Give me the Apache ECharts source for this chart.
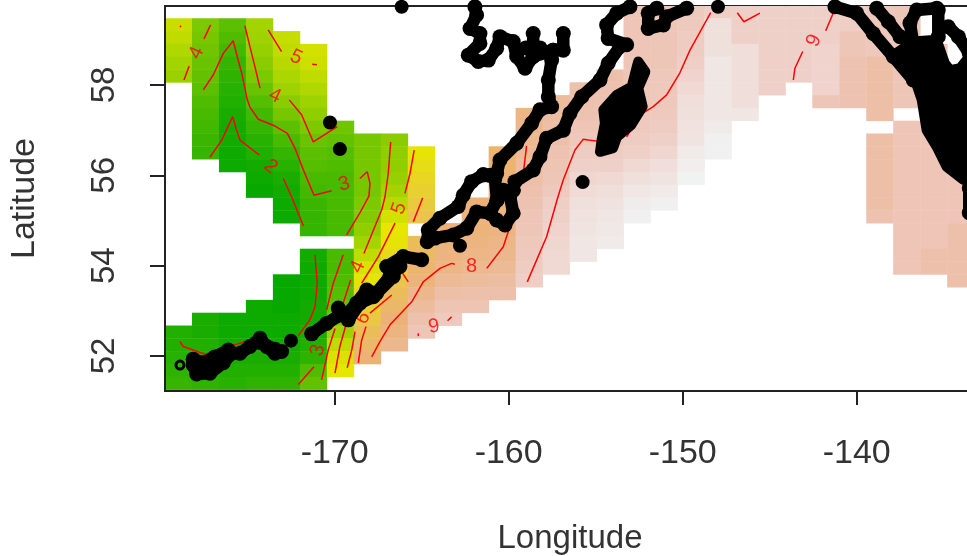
<!DOCTYPE html>
<html><head><meta charset="utf-8">
<style>html,body{margin:0;padding:0;background:#fff;overflow:hidden}#c{width:967px;height:556px;filter:blur(.55px)}</style>
<script src="https://cdn.jsdelivr.net/npm/echarts@6/dist/echarts.min.js"></script>
</head><body><div id="c"></div>
<script>
const lonTicks=[-170,-160,-150,-140];
const latTicks=[52,54,56,58];
const cellLon0=-179.75, cellLonStep=1.55, cellLatTop=59.76, cellLatStep=0.2834;
const paletteStops=[1.8,5.3,7.0,8.0,8.5,9.0,9.5,10.0,10.5];
const paletteColors=['#00A600','#E6E600','#ECB176','#EDC0AC','#EEC6B8','#EFD0C8','#F0DEDA','#F0E8E6','#F1F2F2'];
// [column, first row, values going south]
const cellRuns=[
[0,1,[4.85,4.7,4.46,4.3,4.16]],[0,25,[2.3,2.3,2.4,2.5,2.6]],
[1,1,[3.7,3.6,3.5,3.4,3.3,3.2,3.0,2.9,2.8,2.7,2.6]],[1,24,[2.2,2.2,2.3,2.3,2.4,2.5]],
[2,1,[3.2,3.0,2.8,2.6,2.5,2.4,2.3,2.2,2.1,2.1,2.0,2.0]],[2,24,[2.0,2.0,2.1,2.2,2.3,2.4]],
[3,1,[4.3,4.2,4.1,3.9,3.7,3.4,3.1,2.8,2.6,2.4,2.3,2.1,2.0,1.9]],[3,23,[2.0,2.0,2.0,2.1,2.2,2.3,2.5]],
[4,2,[4.8,4.7,4.6,4.4,4.2,3.9,3.6,3.2,2.9,2.6,2.4,2.2,2.1,2.0,2.0]],[4,21,[1.9,1.9,1.9,2.0,2.0,2.1,2.2,2.3,2.5]],
[5,3,[5.0,4.9,4.7,4.5,4.2,4.0,3.7,3.4,3.2,3.1,2.9,2.8,2.7,2.6,2.6]],[5,19,[2.1,2.0,2.0,2.0,2.1,2.1,2.2,2.3,2.5,3.0,3.3]],
[6,9,[3.5,3.3,3.1,3.0,2.9,2.9,2.9,2.9,2.9]],[6,19,[2.9,2.9,3.0,3.1,3.3,3.6,4.2,4.7,5.1,5.3]],
[7,10,[3.6,3.6,3.6,3.6,3.6,3.7,3.8,4.0,4.3,4.7,5.1,5.4,5.7,6.0,6.3,6.6,6.8,7.0]],
[8,10,[3.9,4.0,4.0,4.1,4.3,4.6,5.0,5.3,5.4,5.7,6.0,6.4,6.6,6.8,7.0,7.2,7.4]],
[9,11,[5.4,5.6,5.8,6.0,6.2,6.4]],[9,18,[6.6,6.7,6.9,7.1,7.4,7.7,8.1,8.5]],
[10,17,[7.0,7.1,7.2,7.3,7.6,7.9,8.3,8.7]],
[11,15,[7.0,7.1,7.1,7.2,7.3,7.5,7.7,8.0,8.3]],
[12,11,[6.9,6.9,7.0,7.0,7.1,7.2,7.2,7.3,7.4,7.6,7.8,8.0]],
[13,8,[7.3,7.4,7.5,7.6,7.8,7.9,8.1,8.2,8.4,8.5,8.6,8.7,8.8,8.9]],
[14,7,[7.7,7.8,7.9,8.0,8.2,8.3,8.5,8.7,8.9,9.0,9.1,9.2,9.3,9.3]],
[15,6,[8.0,8.1,8.2,8.4,8.6,8.8,9.0,9.2,9.4,9.6,9.7,9.8,9.9,9.9]],
[16,5,[8.0,8.1,8.2,8.3,8.4,8.6,8.8,9.0,9.3,9.5,9.7,9.9,10.0,10.1]],
[17,0,[8.4,8.4,8.4,8.4,8.4,8.4,8.4,8.5,8.6,8.7,8.8,9.0,9.3,9.6,9.9,10.2,10.4]],
[18,0,[8.5,8.5,8.5,8.5,8.5,8.6,8.6,8.6,8.7,8.8,9.0,9.2,9.5,9.8,10.1,10.4]],
[19,0,[8.7,8.7,8.8,8.8,8.9,9.1,9.3,9.5,9.6,9.7,9.8,10.1,10.3,10.5]],
[20,0,[8.9,9.6,9.6,9.6,9.9,9.9,9.9,9.9,9.9,10.1,10.4,10.4]],
[21,0,[9.0,9.0,9.0,9.5,9.5,9.5,9.5,9.5,9.9]],
[22,0,[9.0,9.0,9.0,9.0,9.0,9.0,9.0]],
[23,0,[9.0,9.0,9.0,9.0,9.0,9.0]],
[24,0,[9.0,9.0,9.0,9.1,9.1,9.1,9.1,8.5]],
[25,0,[8.9,8.9,8.5,8.5,8.2,8.2,8.2,8.2]],
[26,0,[8.6,8.6,8.6,8.6,7.9,7.9,7.9,7.9,7.9]],[26,10,[7.9,7.9,7.9,7.9,7.9,7.9,8.2]],
[27,0,[8.5,8.5,8.5,8.5,8.5,8.5,8.5,8.5]],[27,9,[8.4,8.4,8.4,8.4,8.4,8.4,8.4,8.4,8.4,8.4,8.4,8.4]],
[28,3,[8.5,8.5,8.5,8.5,8.5]],[28,9,[8.4,8.4,8.4,8.4,8.4,8.4,8.4,8.4,8.4,8.4,8.0,8.0]],
[29,10,[8.4,8.4,8.4,8.4,8.4,8.4,8.4,8.0,8.0,8.0,8.0,8.0]]
];
const contourLines=[
[[-178.89,59.31],[-178.83,59.28]],
[[-177.13,59.33],[-177.51,59.02]],
[[-178.36,58.42],[-178.66,58.11]],
[[-177.55,57.89],[-176.98,58.22],[-176.40,58.70],[-175.83,58.98],[-175.60,58.63],[-175.34,58.26],[-175.02,57.67],[-174.87,57.51],[-174.39,57.24],[-173.43,57.09],[-172.72,56.93],[-172.28,56.60],[-171.80,56.12],[-171.19,55.56],[-170.17,55.66]],
[[-175.16,59.31],[-174.87,58.85],[-174.58,58.40],[-174.29,57.93]],
[[-173.82,59.22],[-173.05,58.74]],
[[-171.29,58.46],[-171.02,58.45]],
[[-172.61,57.67],[-171.90,57.34],[-171.61,57.08],[-171.23,56.74],[-169.85,57.08]],
[[-177.17,56.40],[-176.49,56.78],[-175.86,57.30],[-175.67,57.04],[-175.44,56.78],[-174.33,56.45]],
[[-172.95,55.93],[-172.47,55.52],[-171.80,54.88]],
[[-168.55,55.93],[-168.13,56.08],[-167.97,55.82],[-168.03,55.54],[-168.55,55.17],[-169.31,54.68]],
[[-166.78,56.74],[-166.92,56.04],[-167.11,55.52],[-167.30,55.23],[-168.32,54.27]],
[[-165.43,56.56],[-165.67,56.04],[-165.96,55.60]],
[[-164.94,55.50],[-165.48,54.97]],
[[-166.53,54.94],[-167.49,54.20],[-168.45,53.61]],
[[-169.98,52.61],[-170.37,52.13],[-170.75,51.47]],
[[-169.35,52.69],[-169.70,52.21],[-169.98,51.62]],
[[-168.83,52.54],[-169.02,52.13],[-169.28,51.74]],
[[-168.20,52.65],[-168.45,52.35],[-168.64,51.85]],
[[-163.09,54.03],[-163.28,54.05],[-163.95,53.94],[-164.91,53.64],[-165.57,53.20],[-166.82,52.69],[-167.40,52.32],[-167.87,51.98]],
[[-166.09,53.83],[-165.77,53.64]],
[[-166.72,53.35],[-167.97,52.95]],
[[-171.13,54.24],[-171.00,53.61],[-171.13,53.09],[-171.42,52.80],[-172.09,52.45]],
[[-169.51,54.24],[-170.08,53.61],[-170.46,53.02]],
[[-169.08,53.68],[-169.51,53.17],[-169.60,52.98]],
[[-178.89,52.32],[-178.70,52.21],[-177.45,52.04],[-175.83,52.24],[-174.77,52.35]],
[[-173.43,52.23],[-172.86,52.23]],
[[-171.19,51.76],[-172.09,51.37]],
[[-165.20,52.50],[-165.19,52.44]],
[[-163.28,52.87],[-163.51,52.78]],
[[-154.56,56.74],[-155.43,56.78],[-155.71,56.80],[-156.19,56.56],[-156.86,55.90],[-157.17,55.52],[-157.82,54.64],[-158.93,53.64]],
[[-158.97,56.65],[-159.16,56.04]],
[[-159.93,54.86],[-160.31,54.42],[-161.26,53.94]],
[[-148.39,59.60],[-149.58,58.77],[-150.16,58.27],[-150.92,57.78],[-151.69,57.52],[-152.45,57.34],[-153.22,56.85]],
[[-146.86,59.60],[-146.48,59.40],[-145.56,59.59]],
[[-141.34,59.60],[-141.78,59.20]],
[[-143.10,58.74],[-143.55,58.37],[-143.64,58.11]]
];
const contourLabels=[
[-177.93,58.71,'4',65],[-172.22,58.61,'5',-25],[-173.43,57.76,'4',-25],[-173.68,56.19,'2',-40],
[-169.45,55.80,'3',15],[-166.29,55.27,'5',70],[-168.66,53.97,'4',65],[-170.96,52.13,'3',75],
[-168.37,52.84,'6',60],[-162.13,53.98,'8',0],[-164.29,52.65,'9',10],[-142.44,58.98,'9',65]
];
const coastLines=[
[[-178.13,51.80],[-177.93,51.60],[-177.17,51.62],[-176.40,51.85],[-175.92,52.06],[-175.44,52.06],[-174.87,52.21],[-174.29,52.39],[-173.91,52.21],[-173.43,52.06],[-173.05,52.10]],
[[-178.13,51.93],[-177.55,51.85],[-176.88,51.98],[-176.11,52.13]],
[[-174.29,52.30],[-173.43,52.15]],
[[-171.32,52.49],[-170.46,52.72],[-169.70,52.91],[-169.79,53.06]],
[[-169.22,52.95],[-168.74,53.17],[-168.16,53.46],[-167.59,53.39],[-166.63,53.76],[-167.01,53.98],[-166.06,54.20],[-165.00,54.13]],
[[-169.22,52.80],[-168.55,53.17],[-167.78,53.31],[-166.82,53.76],[-166.25,53.98]],
[[-161.94,59.73],[-161.84,59.55],[-162.22,59.25],[-161.65,59.14],[-161.65,58.92],[-162.32,58.66],[-161.75,58.52],[-161.17,58.55],[-160.69,58.81],[-160.50,59.07],[-159.74,58.96],[-159.54,58.63],[-159.06,58.37],[-158.59,58.63],[-158.59,59.14],[-158.59,58.63],[-157.44,58.77],[-156.86,58.77],[-156.86,59.14]],
[[-159.01,58.82],[-158.20,58.82]],
[[-157.44,58.77],[-157.53,58.55],[-157.72,58.11],[-157.72,57.74],[-157.53,57.52],[-158.20,57.45],[-158.68,57.15],[-159.54,56.71],[-160.50,56.34],[-160.69,56.04],[-161.46,56.01],[-162.13,55.86],[-162.61,55.56],[-162.90,55.31],[-163.95,55.05],[-164.62,54.79],[-164.68,54.53],[-164.24,54.61],[-163.18,54.68],[-162.41,54.83],[-161.84,55.19],[-161.07,55.16],[-160.69,55.01],[-160.21,54.90],[-159.74,55.16],[-159.93,55.56],[-159.74,55.67],[-159.64,55.86],[-158.59,56.12],[-158.20,56.41],[-157.82,56.82],[-156.86,57.00],[-156.48,57.37],[-155.80,57.74],[-154.75,58.11],[-154.28,58.48],[-153.60,58.85],[-153.22,58.89],[-154.28,59.03],[-154.37,59.33],[-153.79,59.59],[-153.03,59.73]],
[[-161.46,56.01],[-160.79,55.94],[-160.67,55.45],[-161.07,55.16]],
[[-160.67,55.45],[-160.31,55.67],[-159.74,55.67]],
[[-151.49,59.70],[-151.98,59.59],[-151.98,59.25],[-151.11,59.33],[-150.92,59.51],[-149.77,59.70]],
[[-141.25,59.73],[-140.00,59.59],[-139.05,59.14],[-137.90,58.63],[-136.75,58.11]],
[[-138.85,59.70],[-138.18,59.40],[-137.51,59.07],[-136.75,58.92],[-136.94,59.37],[-136.55,59.66],[-135.40,59.70]],
[[-135.31,59.66],[-135.31,59.07]],
[[-134.74,59.29],[-134.16,59.07],[-133.53,58.70]],
[[-133.53,55.72],[-133.53,55.17]]
];
const landPolygons=[
[[-152.55,58.52],[-152.14,58.29],[-152.55,57.93],[-152.30,57.52],[-152.96,57.11],[-153.77,56.85],[-154.00,56.60],[-154.75,56.52],[-154.66,56.78],[-154.47,57.15],[-154.56,57.45],[-153.79,57.78],[-152.93,57.96],[-152.64,58.40]],
[[-137.90,58.66],[-136.75,58.96],[-135.40,59.00],[-134.93,58.48],[-134.64,58.33],[-134.06,58.37],[-133.53,58.63],[-133.53,55.90],[-133.87,55.90],[-134.83,56.19],[-135.40,56.63],[-135.98,57.00],[-136.26,57.67],[-136.65,58.11]]
];
const islandDots=[[-170.27,57.17],[-169.70,56.58],[-155.75,55.85],[-162.80,54.44],[-172.51,52.34],[-166.15,59.73],[-147.97,59.73]];
const islandRings=[[-178.89,51.80]];

function hex(c){return [1,3,5].map(i=>parseInt(c.substr(i,2),16));}
function cellColor(z){
  let i=0; while(i<paletteStops.length-2&&z>paletteStops[i+1])i++;
  const t=Math.max(0,Math.min(1,(z-paletteStops[i])/(paletteStops[i+1]-paletteStops[i])));
  const a=hex(paletteColors[i]),b=hex(paletteColors[i+1]);
  return 'rgb('+a.map((v,j)=>Math.round(v+(b[j]-v)*t)).join(',')+')';
}
const cellData=[];
cellRuns.forEach(([c,k0,vals])=>vals.forEach((z,i)=>{
  cellData.push([cellLon0+(c+.5)*cellLonStep, cellLatTop-(k0+i+.5)*cellLatStep, z]);
}));
const axisInk='#222', textInk='#333', fontName='"Liberation Sans",Arial,sans-serif';
const series=[];
series.push({type:'custom',clip:true,silent:true,z:2,data:cellData,encode:{x:0,y:1},
  renderItem(p,api){
    const lon=api.value(0),lat=api.value(1),z=api.value(2);
    const a=api.coord([lon-cellLonStep/2,lat+cellLatStep/2]),b=api.coord([lon+cellLonStep/2,lat-cellLatStep/2]);
    return {type:'rect',shape:{x:a[0],y:a[1],width:b[0]-a[0]+.4,height:b[1]-a[1]+.4},style:{fill:cellColor(z)}};
  }});
contourLines.forEach(l=>series.push({type:'line',z:3,silent:true,data:l,symbol:'none',clip:true,
  lineStyle:{color:'#FF0000',width:1.5}}));
series.push({type:'scatter',z:4,silent:true,symbolSize:0,data:contourLabels.map(d=>({value:[d[0],d[1]],
  label:{show:true,position:'inside',formatter:d[2],rotate:d[3],color:'#FF0000',fontSize:20,fontFamily:fontName}}))});
series.push({type:'custom',z:5,clip:true,silent:true,data:landPolygons.map((_,i)=>[i]),encode:{x:[],y:[]},
  renderItem(p,api){
    const pts=landPolygons[api.value(0)].map(q=>api.coord(q));
    return {type:'polygon',shape:{points:pts},style:{fill:'#000',stroke:'#000',lineWidth:10,lineJoin:'round'}};
  }});
coastLines.forEach(l=>series.push({type:'line',z:5,silent:true,data:l,clip:true,
  symbol:'circle',symbolSize:15,showSymbol:true,showAllSymbol:true,itemStyle:{color:'#000',opacity:1},
  lineStyle:{color:'#000',width:12.5,cap:'round',join:'round',opacity:1}}));
series.push({type:'scatter',z:5,silent:true,clip:true,symbolSize:14,data:islandDots,itemStyle:{color:'#000',opacity:1}});
series.push({type:'scatter',z:5,silent:true,clip:true,symbolSize:8,data:islandRings,itemStyle:{color:'rgba(0,0,0,0)',borderColor:'#000',borderWidth:3,opacity:1}});

const chart=echarts.init(document.getElementById('c'),null,{renderer:'canvas'});
chart.setOption({animation:false,
  grid:{left:165,top:6,width:810,height:385,outerBoundsMode:'none',show:true,borderColor:axisInk,borderWidth:2,backgroundColor:'#fff'},
  xAxis:{type:'value',min:-179.75,max:-133.2,z:10,splitLine:{show:false},
    axisLine:{show:true,onZero:false,lineStyle:{color:axisInk,width:2}},
    axisTick:{show:true,length:14,customValues:lonTicks,lineStyle:{color:axisInk,width:2}},
    axisLabel:{customValues:lonTicks,formatter:v=>String(v),margin:46,fontSize:34,color:textInk,fontFamily:fontName},
    name:'Longitude',nameLocation:'middle',nameGap:148,nameTextStyle:{fontSize:33,color:textInk,fontFamily:fontName,verticalAlign:'middle'}},
  yAxis:{type:'value',min:51.225,max:59.748,z:10,splitLine:{show:false},
    axisLine:{show:true,onZero:false,lineStyle:{color:axisInk,width:2}},
    axisTick:{show:true,length:15,customValues:latTicks,lineStyle:{color:axisInk,width:2}},
    axisLabel:{customValues:latTicks,formatter:v=>String(v),rotate:90,margin:44,fontSize:33,color:textInk,fontFamily:fontName},
    name:'Latitude',nameLocation:'middle',nameGap:140,nameRotate:90,nameTextStyle:{fontSize:34,color:textInk,fontFamily:fontName,verticalAlign:'middle'}},
  series
});
</script></body></html>
